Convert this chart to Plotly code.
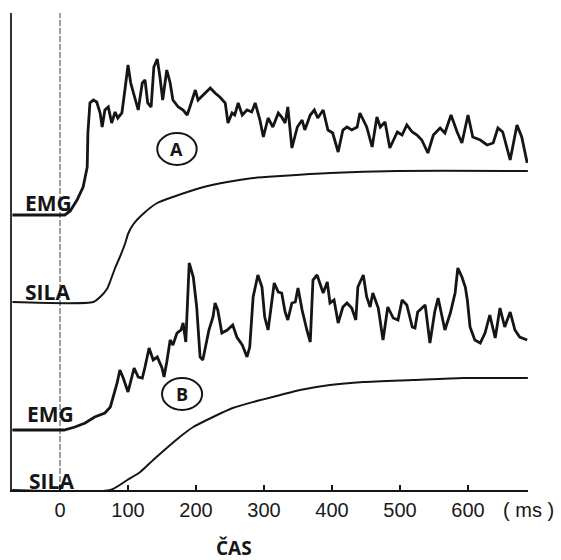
import plotly.graph_objects as go

# Time axis in ms; vertical units are arbitrary trace offsets (0 = time axis).
tick_ms = [0, 100, 200, 300, 400, 500, 600]

# Trace A: EMG
emg_a_t = [-70, 7, 15, 25, 34, 40, 41, 44, 49, 54,
           59, 62, 66, 71, 76, 81, 85, 91, 96, 100,
           104, 110, 115, 121, 125, 129, 134, 138, 143, 147,
           151, 157, 162, 166, 174, 181, 187, 191, 199, 203,
           210, 221, 228, 235, 243, 247, 253, 257, 262, 268,
           275, 282, 287, 294, 299, 306, 313, 321, 326, 331,
           335, 341, 349, 356, 360, 368, 374, 379, 387, 394,
           401, 409, 416, 422, 429, 437, 441, 451, 459, 466,
           471, 478, 485, 496, 503, 510, 518, 525, 532, 541,
           549, 559, 566, 575, 584, 591, 600, 607, 618, 628,
           637, 644, 651, 662, 672, 679, 687]
emg_a_v = [275, 275, 279, 290, 303, 323, 357, 387, 390, 388,
           377, 363, 380, 383, 367, 378, 372, 377, 403, 425,
           407, 393, 380, 407, 410, 387, 383, 423, 431, 413,
           390, 420, 407, 390, 383, 380, 375, 383, 400, 390,
           395, 402, 397, 393, 387, 367, 377, 375, 387, 375,
           380, 378, 387, 370, 353, 372, 363, 377, 373, 367,
           383, 342, 363, 370, 360, 375, 380, 372, 380, 360,
           357, 338, 360, 363, 360, 363, 377, 363, 343, 373,
           363, 368, 342, 358, 355, 365, 358, 355, 350, 337,
           355, 362, 357, 375, 358, 347, 375, 353, 350, 345,
           347, 362, 358, 330, 365, 353, 327]

# Trace A: force (SILA)
sila_a_t = [-70, 49, 59, 69, 74, 81, 88, 96, 100, 107,
            122, 143, 166, 206, 246, 284, 324, 397, 496, 688]
sila_a_v = [188, 188, 193, 201, 209, 222, 233, 247, 256, 265,
            276, 287, 293, 302, 308, 312, 314, 317, 319, 319]

# Trace B: EMG
emg_b_t = [-70, 6, 22, 37, 51, 66, 74, 78, 84, 88,
           93, 100, 106, 109, 115, 121, 125, 131, 137, 143,
           150, 153, 157, 162, 166, 172, 178, 181, 185, 190,
           196, 201, 206, 210, 216, 219, 225, 228, 232, 238,
           246, 254, 260, 268, 275, 279, 284, 291, 297, 301,
           306, 312, 315, 321, 326, 331, 335, 341, 346, 350,
           356, 363, 368, 372, 378, 382, 387, 393, 397, 403,
           409, 416, 422, 429, 435, 438, 446, 451, 456, 460,
           468, 475, 482, 490, 497, 503, 510, 518, 522, 526,
           537, 544, 551, 556, 566, 574, 581, 585, 591, 596,
           599, 603, 610, 618, 625, 632, 640, 647, 654, 662,
           669, 676, 687]
emg_b_v = [60, 60, 63, 67, 73, 77, 83, 93, 107, 120,
           112, 98, 113, 122, 113, 112, 123, 142, 130, 133,
           122, 113, 128, 150, 145, 157, 160, 167, 148, 227,
           213, 183, 133, 130, 150, 160, 173, 187, 180, 157,
           160, 165, 153, 145, 133, 143, 193, 215, 203, 173,
           160, 193, 207, 198, 197, 178, 170, 187, 188, 202,
           180, 160, 148, 210, 215, 207, 197, 208, 187, 190,
           167, 183, 187, 182, 170, 203, 215, 193, 183, 197,
           182, 150, 183, 172, 170, 190, 185, 163, 162, 178,
           185, 147, 178, 192, 160, 177, 197, 222, 213, 203,
           190, 163, 150, 147, 157, 175, 152, 182, 163, 178,
           160, 153, 150]

# Trace B: force (SILA)
sila_b_t = [-70, 74, 99, 118, 137, 157, 176, 196, 225, 254,
            284, 324, 353, 397, 446, 519, 593, 688]
sila_b_v = [0, 0, 10, 18, 30, 42, 53, 63, 73, 82,
            88, 95, 100, 105, 108, 110, 112, 112]

INK = "#151515"
LABEL_FONT = "Open Sans"
NUM_FONT = "Liberation Sans"

fig = go.Figure()
fig.add_trace(go.Scatter(x=emg_a_t, y=emg_a_v, mode="lines",
                         line=dict(color=INK, width=2.8), hoverinfo="skip"))
fig.add_trace(go.Scatter(x=sila_a_t, y=sila_a_v, mode="lines",
                         line=dict(color=INK, width=2, shape="spline", smoothing=0.6),
                         hoverinfo="skip"))
fig.add_trace(go.Scatter(x=emg_b_t, y=emg_b_v, mode="lines",
                         line=dict(color=INK, width=2.8), hoverinfo="skip"))
fig.add_trace(go.Scatter(x=sila_b_t, y=sila_b_v, mode="lines",
                         line=dict(color=INK, width=2, shape="spline", smoothing=0.6),
                         hoverinfo="skip", cliponaxis=False))

# Onset marker at t = 0
fig.add_shape(type="line", x0=0, x1=0, y0=0, y1=477, xref="x", yref="y",
              line=dict(color="#808080", width=1.5, dash="6px,2px"), layer="below")

# Circled trace labels
fig.add_shape(type="circle", x0=143, x1=201, y0=325, y1=357, xref="x", yref="y",
              line=dict(color=INK, width=2))
fig.add_shape(type="circle", x0=150, x1=209, y0=80, y1=112, xref="x", yref="y",
              line=dict(color=INK, width=2))

label_font = dict(family=LABEL_FONT, size=21, color=INK)
annotations = [
    dict(x=-55, y=287, text="<b>EMG</b>", xanchor="left", font=label_font),
    dict(x=-55, y=198, text="<b>SILA</b>", xanchor="left", font=label_font),
    dict(x=-52, y=76, text="<b>EMG</b>", xanchor="left", font=label_font),
    dict(x=-49, y=9, text="<b>SILA</b>", xanchor="left", font=label_font),
    dict(x=172, y=341, text="<b>A</b>", font=dict(family=LABEL_FONT, size=18, color=INK)),
    dict(x=179, y=96, text="<b>B</b>", font=dict(family=LABEL_FONT, size=18, color=INK)),
]
for a in annotations:
    a.update(xref="x", yref="y", showarrow=False)

# Unit and axis title sit below the plot area, so they use paper coordinates
annotations += [
    dict(x=1.0, y=-0.042, xref="paper", yref="paper", text="( ms )",
         xanchor="center", yanchor="middle",
         showarrow=False, font=dict(family=NUM_FONT, size=20, color=INK)),
    dict(x=0.43, y=-0.122, xref="paper", yref="paper", text="<b>ČAS</b>",
         xanchor="center", yanchor="middle",
         showarrow=False, font=dict(family=LABEL_FONT, size=19, color=INK)),
]

fig.update_layout(
    width=561, height=560,
    margin=dict(l=12, r=33, t=13, b=70),
    paper_bgcolor="white", plot_bgcolor="white",
    showlegend=False,
    annotations=annotations,
    xaxis=dict(range=[-70.6, 688.2], showline=True, linecolor=INK, linewidth=2,
               ticks="inside", ticklen=5, tickwidth=1.5, tickcolor=INK,
               tickvals=tick_ms, ticktext=[str(v) for v in tick_ms],
               tickfont=dict(family=NUM_FONT, size=20, color="#1a1a1a"),
               ticklabelstandoff=1,
               showgrid=False, zeroline=False, fixedrange=True),
    yaxis=dict(range=[0, 477], showline=True, linecolor="#333", linewidth=1.5,
               showticklabels=False, ticks="", showgrid=False, zeroline=False,
               fixedrange=True),
)

fig.write_html("out.html")
